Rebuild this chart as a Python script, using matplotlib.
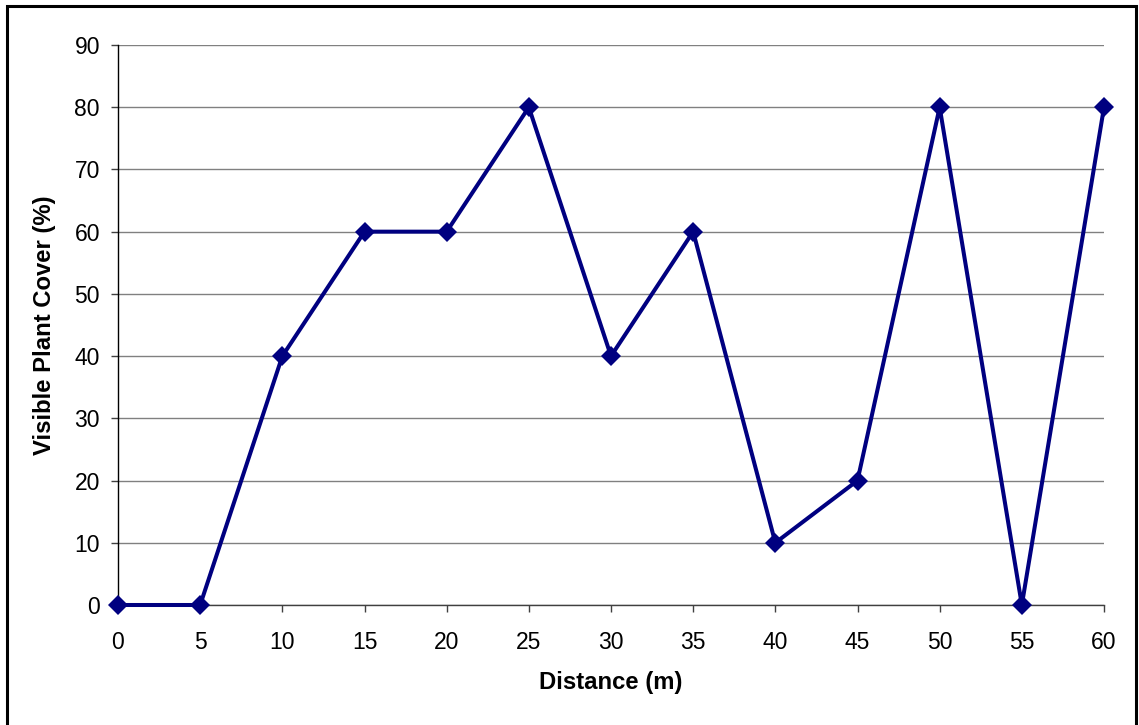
import matplotlib
matplotlib.use("Agg")
import matplotlib.pyplot as plt
from matplotlib.patches import Rectangle

distance = [0, 5, 10, 15, 20, 25, 30, 35, 40, 45, 50, 55, 60]
cover = [0, 0, 40, 60, 60, 80, 40, 60, 10, 20, 80, 0, 80]
yticks = [0, 10, 20, 30, 40, 50, 60, 70, 80, 90]

plt.rcParams['font.family'] = ['Liberation Sans', 'DejaVu Sans']

W, H = 1139, 725
fig = plt.figure(figsize=(W / 100, H / 100), dpi=100)
ax = fig.add_axes([118 / W, 1 - 605 / H, (1104 - 118) / W, (605 - 45) / H])

ax.plot(distance, cover, color='#000080', linewidth=2.9, marker='D',
        markersize=10, markeredgewidth=0, zorder=3, clip_on=False)

ax.set_xlim(0, 60)
ax.set_ylim(0, 90)
ax.set_xticks(distance)
ax.set_yticks(yticks)
ax.grid(axis='y', color='#808080', linewidth=1.0)
ax.set_axisbelow(True)

for s in ['top', 'right']:
    ax.spines[s].set_visible(False)
ax.spines['left'].set_color('black')
ax.spines['left'].set_linewidth(1.0)
ax.spines['bottom'].set_color('#404040')
ax.spines['bottom'].set_linewidth(1.0)

ax.tick_params(axis='y', direction='out', length=5, width=1, color='#404040',
               labelsize=16.5, pad=8)
ax.tick_params(axis='x', direction='out', length=5, width=1, color='#404040',
               labelsize=16.5, pad=14)

ax.set_xlabel('Distance (m)', fontsize=17.2, fontweight='bold')
ax.xaxis.set_label_coords((611 - 118) / (1104 - 118), -(683 - 605) / (605 - 45))
ax.set_ylabel('Visible Plant Cover (%)', fontsize=17.2, fontweight='bold')
ax.yaxis.set_label_coords(-(118 - 45) / (1104 - 118), (605 - 325) / (605 - 45))
ax.xaxis.label.set_va('center')
ax.yaxis.label.set_va('center')

fig.patches.append(Rectangle((7 / W, -0.05), (1136 - 7) / W, 1.05 - 6 / H,
                             transform=fig.transFigure, fill=False,
                             edgecolor='black', linewidth=2.2))

fig.savefig('out.png', dpi=100)
